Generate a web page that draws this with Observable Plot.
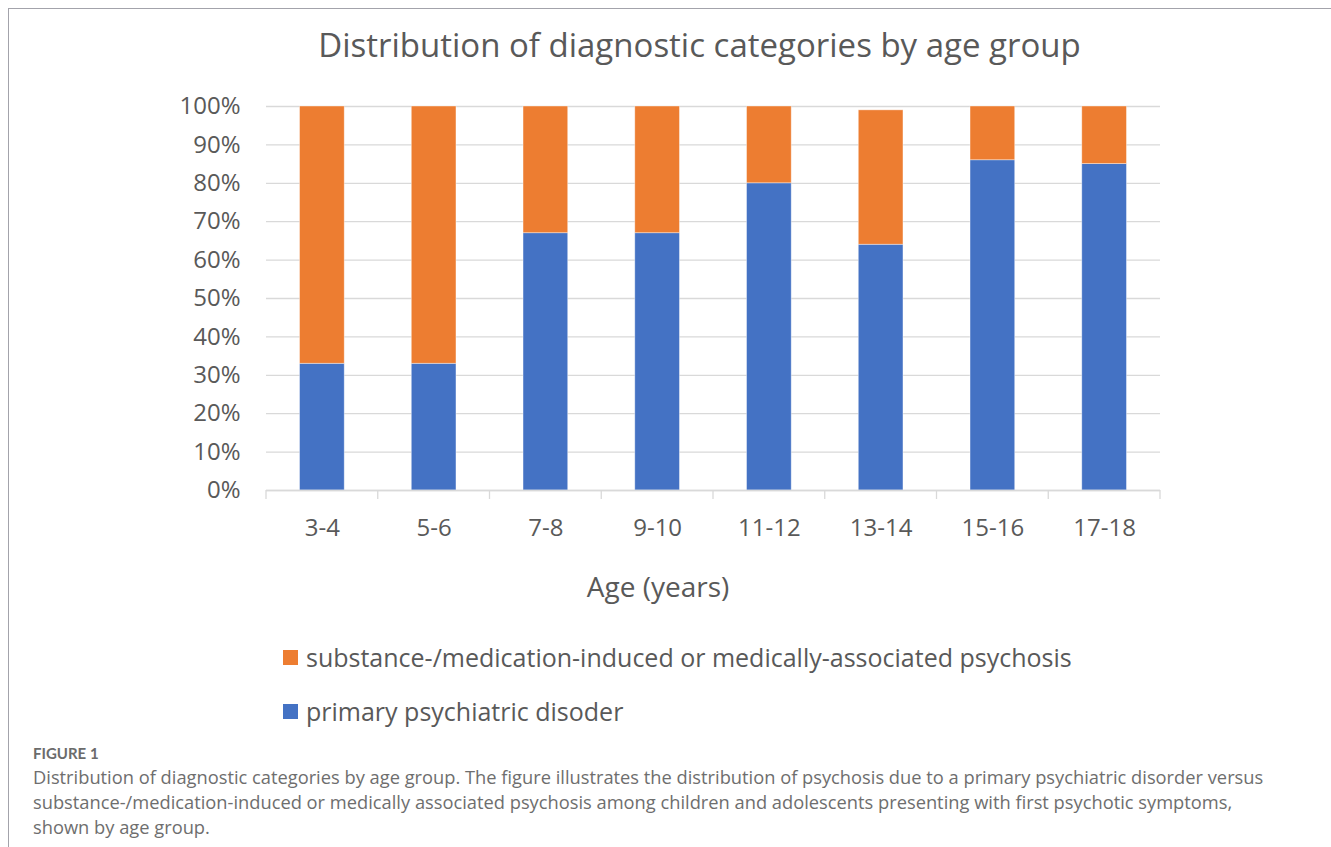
<!DOCTYPE html>
<html><head><meta charset="utf-8">
<script src="https://cdn.jsdelivr.net/npm/d3@7"></script>
<script src="https://cdn.jsdelivr.net/npm/@observablehq/plot@0.6"></script>
<style>
body{margin:0;background:#fff;width:1331px;height:847px;overflow:hidden;position:relative;font-family:"Open Sans",sans-serif}
#frame{position:absolute;left:8px;top:8px;width:1330px;height:845px;border-left:1px solid #a3a3ab;border-top:1px solid #a3a3ab}
#title{position:absolute;left:0;top:22px;width:1399px;text-align:center;font-size:33px;color:#595959;white-space:nowrap}
#chart{position:absolute;left:0;top:80px}
#xlabel{position:absolute;left:0;top:567px;width:1316px;text-align:center;font-size:28px;color:#595959}
.leg{position:absolute;left:283px;font-size:25px;color:#595959;white-space:nowrap;display:flex;align-items:center}
.sw{width:15px;height:15px;margin-right:8px;display:inline-block}
#fig{position:absolute;left:33px;top:744px;font-family:Lato,sans-serif;font-size:15px;font-weight:bold;color:#6b6b6b}
#cap{position:absolute;left:33px;top:764px;font-family:"Open Sans",sans-serif;font-size:18.3px;line-height:25px;color:#6e6e6e;white-space:nowrap}
</style></head>
<body>
<div id="frame"></div>
<div id="title">Distribution of diagnostic categories by age group</div>
<div id="chart"></div>
<div id="xlabel">Age (years)</div>
<div id="legend"></div>
<div id="fig">FIGURE 1</div>
<div id="cap">Distribution of diagnostic categories by age group. The figure illustrates the distribution of psychosis due to a primary psychiatric disorder versus<br>substance-/medication-induced or medically associated psychosis among children and adolescents presenting with first psychotic symptoms,<br>shown by age group.</div>
<script>
const ageGroups = ["3-4","5-6","7-8","9-10","11-12","13-14","15-16","17-18"];
const primary = [33,33,67,67,80,64,86,85];
const substance = [67,67,33,33,20,35,14,15];
const seriesNames = ["primary psychiatric disoder","substance-/medication-induced or medically-associated psychosis"];
const seriesColors = ["#4472c4","#ed7d31"];
const yTicks = [0,10,20,30,40,50,60,70,80,90,100];

const rows = [];
ageGroups.forEach((a,i)=>{
  rows.push({age:a, series:seriesNames[0], value:primary[i]});
  rows.push({age:a, series:seriesNames[1], value:substance[i]});
});

const boundaryTicks = (index, scales, values, dimensions) => {
  const {width, height, marginLeft, marginRight, marginBottom} = dimensions;
  const step = (width - marginLeft - marginRight) / ageGroups.length;
  const g = d3.create("svg:g");
  const y0 = height - marginBottom;
  for (let i = 0; i <= ageGroups.length; i++) {
    const x = marginLeft + i * step;
    g.append("line").attr("x1", x).attr("x2", x).attr("y1", y0).attr("y2", y0 + 9)
      .attr("stroke", "#d9d9d9").attr("stroke-width", 1.3);
  }
  return g.node();
};

const chart = Plot.plot({
  width: 1331,
  height: 465,
  marginLeft: 266,
  marginRight: 171,
  marginTop: 26,
  marginBottom: 55,
  style: {fontFamily: "'Open Sans', sans-serif", background: "transparent"},
  x: {domain: ageGroups, paddingInner: 0.6, paddingOuter: 0.3, round: false, label: null},
  y: {domain: [0,100], label: null},
  color: {domain: seriesNames, range: seriesColors},
  marks: [
    Plot.gridY(yTicks, {stroke: "#d9d9d9", strokeOpacity: 1, strokeWidth: 1.3}),
    Plot.barY(rows, {x: "age", y: "value", fill: "series", order: seriesNames, stroke: "#ffffff", strokeOpacity: 0.5, strokeWidth: 0.8}),
    Plot.ruleY([0], {stroke: "#d9d9d9", strokeWidth: 1.3}),
    boundaryTicks,
    Plot.axisY(yTicks, {tickSize: 0, tickPadding: 26, tickFormat: d => d + "%", fontSize: 24, fill: "#595959", label: null}),
    Plot.axisX({tickSize: 0, tickPadding: 28, fontSize: 24, fill: "#595959", label: null})
  ]
});
document.getElementById("chart").appendChild(chart);

const legend = document.getElementById("legend");
[[1,658],[0,712]].forEach(([k,yc])=>{
  const d = document.createElement("div");
  d.className = "leg";
  d.style.top = (yc - 18) + "px";
  d.innerHTML = `<span class="sw" style="background:${seriesColors[k]}"></span><span>${seriesNames[k]}</span>`;
  legend.appendChild(d);
});
</script>
</body></html>
